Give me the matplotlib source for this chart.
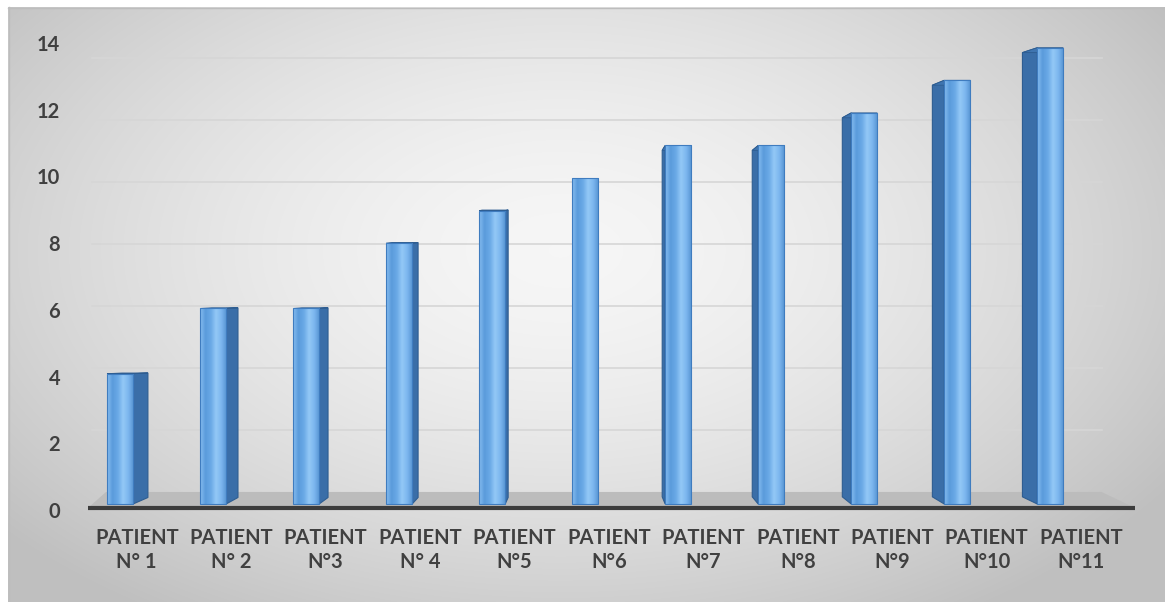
import numpy as np
import matplotlib.pyplot as plt
from matplotlib.patches import Polygon, Rectangle
from matplotlib.colors import LinearSegmentedColormap

# data
patients = ['PATIENT\nN° 1', 'PATIENT\nN° 2', 'PATIENT\nN°3', 'PATIENT\nN° 4',
            'PATIENT\nN°5', 'PATIENT\nN°6', 'PATIENT\nN°7', 'PATIENT\nN°8',
            'PATIENT\nN°9', 'PATIENT\nN°10', 'PATIENT\nN°11']
values = [4, 6, 6, 8, 9, 10, 11, 11, 12, 13, 14]
yticks = [0, 2, 4, 6, 8, 10, 12, 14]

W, H = 1165, 602
fig = plt.figure(figsize=(W / 100, H / 100), dpi=100)

# radial grey background
bg = fig.add_axes([0, 0, 1, 1])
bg.axis('off')
yy, xx = np.mgrid[0:H, 0:W]
r = np.sqrt(((xx - 560) / 720.0) ** 2 + ((yy - 250) / 430.0) ** 2)
shade = np.clip(0.965 - 0.21 * r ** 1.6, 0.75, 0.965)
img = np.dstack([shade] * 3)
img[:7, :] = 1.0
img[:, :8] = 1.0
bg.imshow(img, extent=[0, W, H, 0], aspect='auto', interpolation='bilinear')
bg.plot([8, W], [7.5, 7.5], color='#bdbdbd', lw=1)
bg.plot([8.5, 8.5], [7, H], color='#bdbdbd', lw=1)
bg.set_xlim(0, W)
bg.set_ylim(H, 0)

# main axes, in pixel layout
left_px, right_px, top_px, bot_px = 88, 1135, 20, 515
ax = fig.add_axes([left_px / W, (H - bot_px) / H,
                   (right_px - left_px) / W, (bot_px - top_px) / H])
ax.patch.set_alpha(0)
for s in ax.spines.values():
    s.set_visible(False)

x = np.arange(len(values))
xmin, xmax = -0.344, 10.91
ymin, ymax = -0.337, 14.85

# floor
floor_top = 0.37
ax.add_patch(Polygon([(xmin, -0.12), (xmax, -0.12), (10.55, floor_top), (-0.15, floor_top)],
                     closed=True, facecolor='#bcbcbc', edgecolor='none', zorder=1))
ax.plot([xmin, xmax], [-0.12, -0.12], color='#3c3c3c', lw=3, solid_capstyle='butt', zorder=2)

# back-wall gridlines (perspective)
for t in yticks[1:]:
    yb = floor_top + t * 0.951
    ax.plot([-0.3, 10.55], [yb, yb], color='#d6d6d6', lw=1.2, zorder=1)

# bars with side faces
face_cmap = LinearSegmentedColormap.from_list(
    'face', ['#86bdf0', '#5a9bdb', '#6aa9e6', '#93c8f6', '#7cb6ee', '#5593d2'])
grad = np.linspace(0, 1, 64).reshape(1, -1)
half = 0.14
for i, v in zip(x, values):
    dx = 0.16 * (5 - i) / 5.0
    if dx > 0:
        e = i + half
        side = [(e, 0), (e + dx, 0.2), (e + dx, v + 0.02), (e, v)]
        top = [(i - half, v), (e, v), (e + dx, v + 0.02), (i - half + dx, v + 0.02)]
    else:
        e = i - half
        side = [(e, 0), (e + dx, 0.22), (e + dx, v - 0.15), (e, v)]
        top = [(e, v), (i + half, v), (i + half + dx, v - 0.15), (e + dx, v - 0.15)]
    if abs(dx) > 1e-6:
        ax.add_patch(Polygon(side, closed=True, facecolor='#3a6ea8',
                             edgecolor='#2e5d91', lw=0.8, zorder=3))
        ax.add_patch(Polygon(top, closed=True, facecolor='#3f75b0',
                             edgecolor='#2e5d91', lw=0.6, zorder=3))
    rect = Rectangle((i - half, 0), 2 * half, v, facecolor='none',
                     edgecolor='#3f7cbf', lw=0.8, zorder=5)
    ax.add_patch(rect)
    im = ax.imshow(grad, cmap=face_cmap, extent=[i - half, i + half, 0, v],
                   aspect='auto', zorder=4, interpolation='bilinear')
    im.set_clip_path(rect)

ax.set_xlim(xmin, xmax)
ax.set_ylim(ymin, ymax)

font = dict(family=['Lato', 'DejaVu Sans'], size=14.5, weight='bold', color='#404040')

# value labels sit on the front wall, which is scaled slightly differently
fwd = lambda v: (6 + 32.6 * np.asarray(v)) / 33.36
inv = lambda u: (33.36 * np.asarray(u) - 6) / 32.6
ax.set_yticks([])
sec = ax.secondary_yaxis('left', functions=(fwd, inv))
sec.spines['left'].set_visible(False)
sec.set_yticks(yticks)
sec.set_yticklabels([str(t) for t in yticks], **font)
sec.tick_params(axis='y', length=0, pad=20)

ax.set_xticks(x * 1.015 + 0.18)
ax.set_xticklabels(patients, linespacing=1.25, **font)
ax.tick_params(axis='x', length=0, pad=9)

fig.savefig('out.png', dpi=100)
